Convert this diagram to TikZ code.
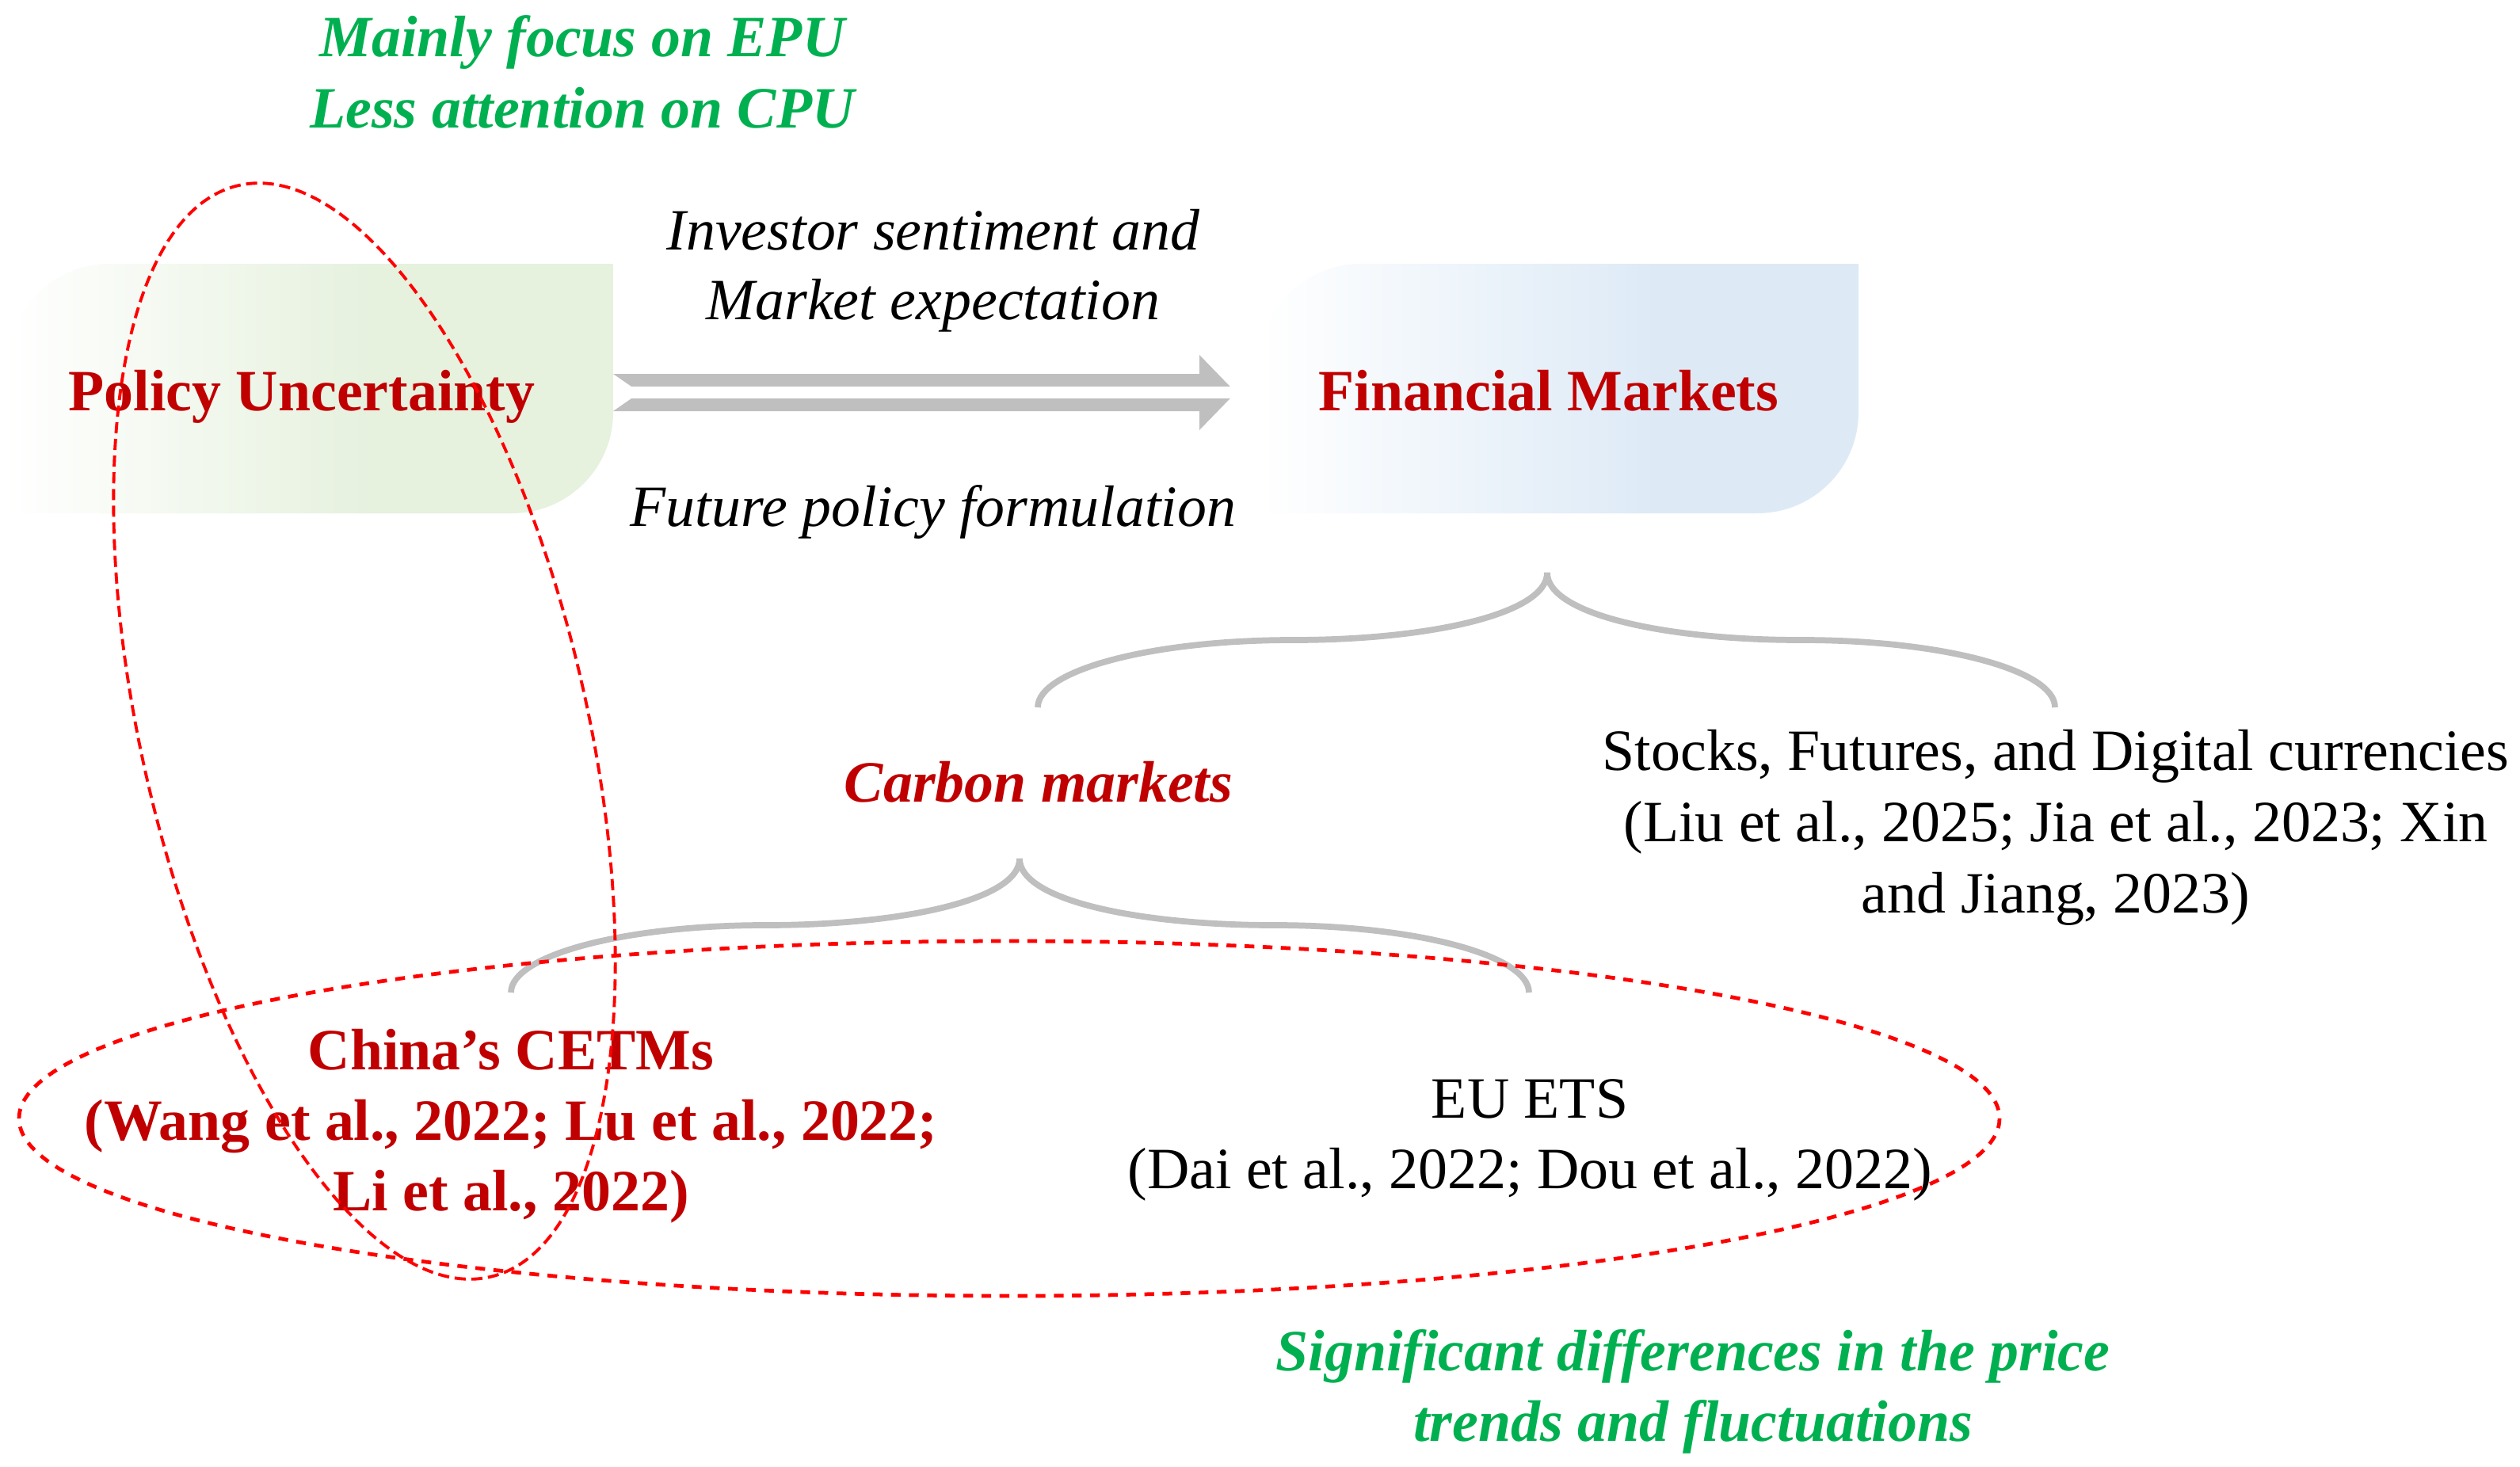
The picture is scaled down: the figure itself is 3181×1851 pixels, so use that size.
\documentclass[tikz,border=0pt]{standalone}
\usepackage{fontspec}
\setmainfont{Liberation Serif}
\definecolor{darkred}{HTML}{C00000}
\definecolor{pgreen}{HTML}{00B050}
\definecolor{boxgreen}{HTML}{E6F1DE}
\definecolor{boxblue}{HTML}{DDEAF6}
\definecolor{arrowgray}{HTML}{BFBFBF}
\definecolor{ellred}{HTML}{FF0000}
\pgfdeclarehorizontalshading{greenfade}{100bp}{color(0bp)=(white); color(25bp)=(white); color(55bp)=(boxgreen); color(100bp)=(boxgreen)}
\pgfdeclarehorizontalshading{bluefade}{100bp}{color(0bp)=(white); color(25bp)=(white); color(58bp)=(boxblue); color(100bp)=(boxblue)}
\tikzset{
  plainlbl/.style={inner sep=0pt, anchor=base, font=\fontsize{21pt}{25pt}\selectfont},
  itlbl/.style={plainlbl, font=\fontsize{21pt}{25pt}\selectfont\itshape},
  redbf/.style={plainlbl, text=darkred, font=\fontsize{21pt}{25pt}\selectfont\bfseries},
  redbi/.style={plainlbl, text=darkred, font=\fontsize{21pt}{25pt}\selectfont\bfseries\itshape},
  greenlbl/.style={plainlbl, text=pgreen, font=\fontsize{21pt}{25pt}\selectfont\bfseries\itshape},
  bracestyle/.style={draw=arrowgray, line width=2.2pt},
  redash/.style={draw=ellred, line width=1.1pt, dash pattern=on 4pt off 2pt},
  redot/.style={draw=ellred, line width=1.35pt, dash pattern=on 3.5pt off 3pt},
}
\begin{document}
\begin{tikzpicture}[x=0.01cm,y=-0.01cm]
\useasboundingbox (0,0) rectangle (3181,1851);

% boxes
\path[shading=greenfade] (10,461) .. controls (10,390) and (67,333) .. (138,333) -- (774,333) -- (774,520) .. controls (774,591) and (717,648) .. (646,648) -- (10,648) -- cycle;
\path[shading=bluefade] (1590,461) .. controls (1590,390) and (1647,333) .. (1718,333) -- (2346,333) -- (2346,520) .. controls (2346,591) and (2289,648) .. (2218,648) -- (1590,648) -- cycle;

% double arrow
\fill[arrowgray] (774,472) -- (1514,472) -- (1514,448) -- (1560,495.5) -- (1514,543) -- (1514,519) -- (774,519) -- (808,495.5) -- cycle;
\fill[white] (795,488) rectangle (1570,503);

% braces
\draw[bracestyle] (1310,893) .. controls (1310,846) and (1454,808) .. (1632,808) .. controls (1805,808) and (1953,775) .. (1953,723) .. controls (1953,775) and (2100,808) .. (2274,808) .. controls (2452,808) and (2594,846) .. (2594,893);
\draw[bracestyle] (645,1253) .. controls (645,1206) and (788,1168) .. (966,1168) .. controls (1139,1168) and (1287,1136) .. (1287,1084) .. controls (1287,1136) and (1435,1168) .. (1609,1168) .. controls (1787,1168) and (1930,1206) .. (1930,1253);

% texts
\node[greenlbl] (epu1) at (735,71) {Mainly focus on EPU};
\node[greenlbl] (epu2) at (735,161) {Less attention on CPU};
\node[itlbl] (inv1) at (1178,315) {Investor sentiment and};
\node[itlbl] (inv2) at (1178,403) {Market expectation};
\node[itlbl] (fut) at (1178,664) {Future policy formulation};
\node[redbf] (pu) at (381,518) {Policy Uncertainty};
\node[redbf] (fm) at (1955,518) {Financial Markets};
\node[redbi] (carbon) at (1311,1012) {Carbon markets};
\node[plainlbl] (st1) at (2595,972) {Stocks, Futures, and Digital currencies};
\node[plainlbl] (st2) at (2595,1062) {(Liu et al., 2025; Jia et al., 2023; Xin};
\node[plainlbl] (st3) at (2595,1152) {and Jiang, 2023)};
\node[redbf] (cn1) at (645,1350) {China’s CETMs};
\node[redbf] (cn2) at (645,1439) {(Wang et al., 2022; Lu et al., 2022;};
\node[redbf] (cn3) at (645,1528) {Li et al., 2022)};
\node[plainlbl] (eu1) at (1931,1411) {EU ETS};
\node[plainlbl] (eu2) at (1931,1500) {(Dai et al., 2022; Dou et al., 2022)};
\node[greenlbl] (sig1) at (2137,1730) {Significant differences in the price};
\node[greenlbl] (sig2) at (2137,1819) {trends and fluctuations};

% dashed ellipses
\draw[redash, rotate around={13:(460,923)}] (460,923) ellipse [x radius=281, y radius=707];
\draw[redot] (1274,1412) ellipse [x radius=1250, y radius=224];
\end{tikzpicture}
\end{document}
